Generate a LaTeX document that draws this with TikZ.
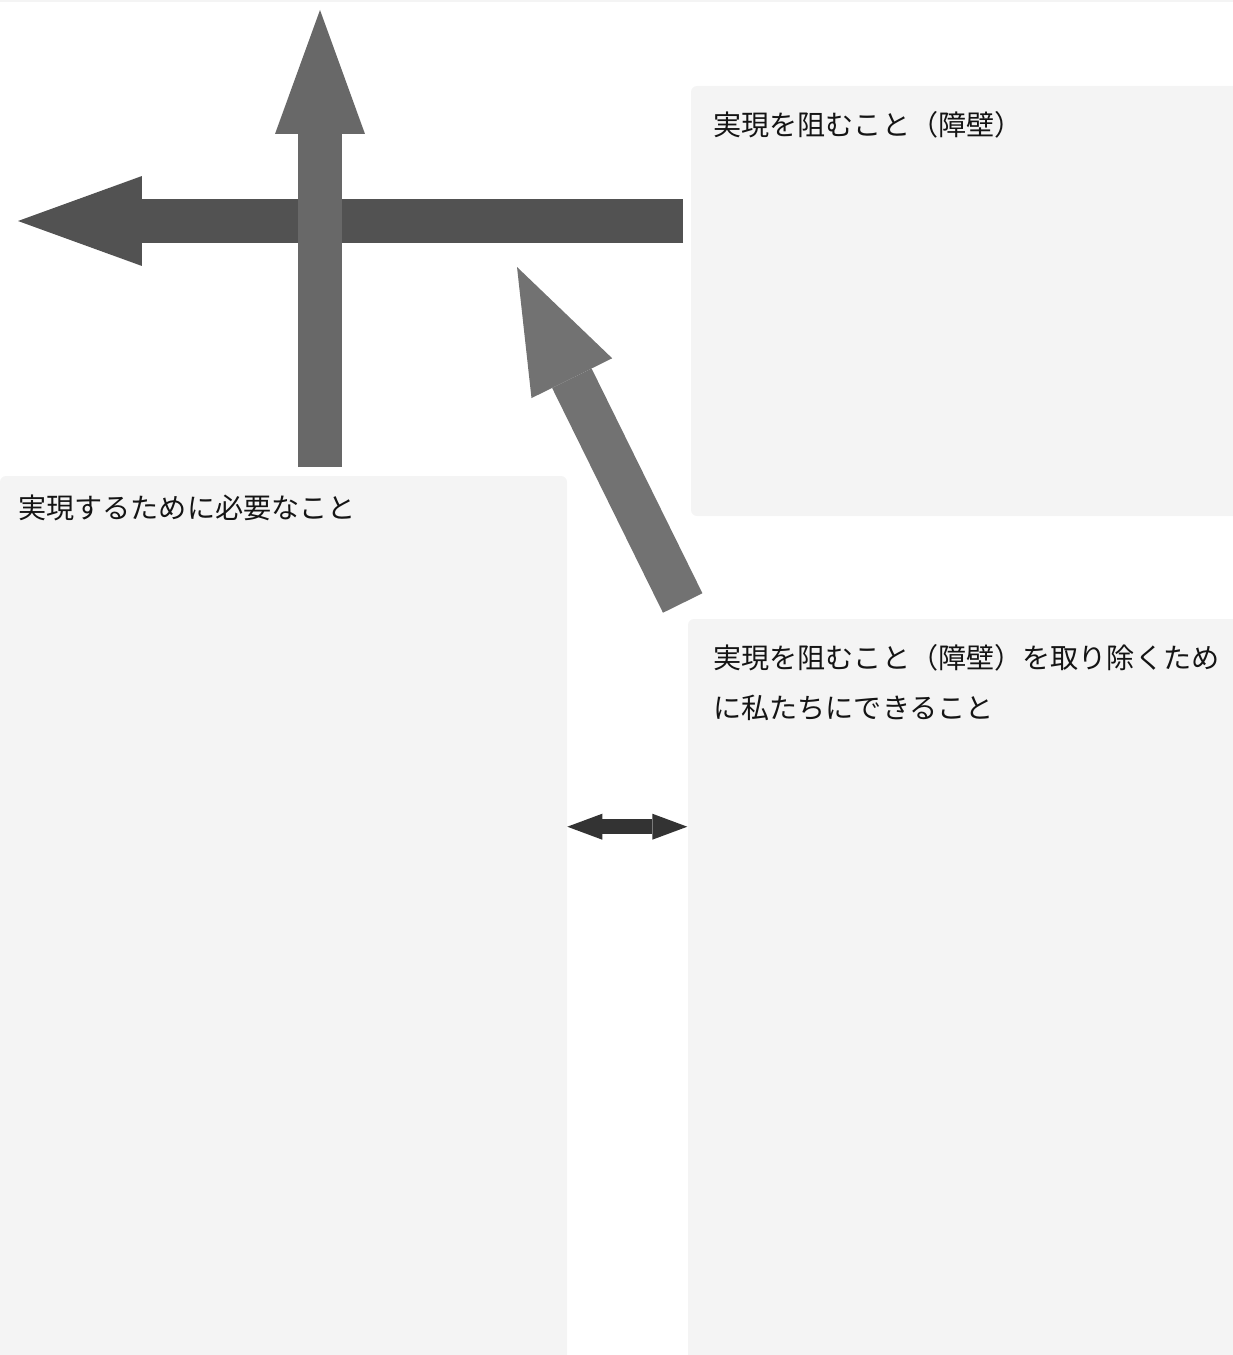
\documentclass[tikz,border=0pt]{standalone}
\usepackage{fontspec}
\newfontfamily\jpfont{Noto Sans CJK JP}
\usepackage{xcolor}
\usepackage{tikz}
\usetikzlibrary{arrows.meta}

\definecolor{boxgray}{HTML}{F4F4F4}
\definecolor{bargray}{HTML}{525252}
\definecolor{upgray}{HTML}{686868}
\definecolor{diaggray}{HTML}{727272}
\definecolor{linkgray}{HTML}{333333}
\definecolor{textgray}{HTML}{141414}

\tikzset{
  panel/.style={fill=boxgray, rounded corners=0.12cm},
  boxtext/.style={anchor=base west, inner sep=0pt, text=textgray, align=left,
    font=\jpfont\fontsize{16pt}{27.9pt}\selectfont},
  bigarrow/.style={line width=0.88cm,
    -{Triangle[length=2.48cm, width=1.8cm, line width=0pt]}},
  linkarrow/.style={line width=0.3cm, draw=linkgray,
    {Triangle[length=0.7cm, width=0.52cm, line width=0pt]}-{Triangle[length=0.7cm, width=0.52cm, line width=0pt]}}
}

\begin{document}
\begin{tikzpicture}[x=0.02cm, y=-0.02cm]
\useasboundingbox (0,0) rectangle (1233,1355);
\clip (0,0) rectangle (1233,1355);

% BOXES
  \fill[boxgray] (0,-10) rectangle (1233,2);
  \fill[panel] (691,86) rectangle (1250,516);
  \fill[panel] (0,476) rectangle (567,1370);
  \fill[panel] (688,619) rectangle (1250,1370);

% ARROWS
  \coordinate (bar start) at (683,221);
  \coordinate (bar end) at (18,221);
  \coordinate (up start) at (320,467);
  \coordinate (up end) at (320,10);
  \coordinate (diag start) at (682.7,603);
  \coordinate (diag end) at (517,267);
  \coordinate (link left) at (567.3,826.7);
  \coordinate (link right) at (687.3,826.7);

  \draw[bigarrow, draw=bargray] (bar start) -- (bar end);
  \draw[bigarrow, draw=upgray] (up start) -- (up end);
  \draw[bigarrow, draw=diaggray] (diag start) -- (diag end);
  \draw[linkarrow] (link left) -- (link right);

% LABELS
  \node[boxtext] (barrier) at (713,135.5) {実現を阻むこと（障壁）};
  \node[boxtext] (need) at (18,518) {実現するために必要なこと};
  \node[boxtext] (action) at (713,718) {実現を阻むこと（障壁）を取り除くため\\に私たちにできること};

\end{tikzpicture}
\end{document}
